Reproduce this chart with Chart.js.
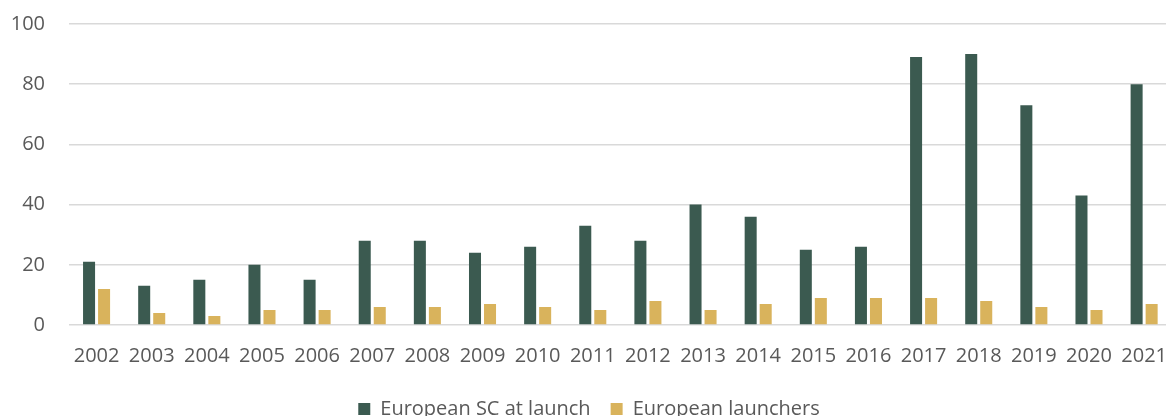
<!DOCTYPE html>
<html>
<head>
<meta charset="utf-8">
<script src="https://cdn.jsdelivr.net/npm/chart.js@4"></script>
<style>
    html, body { margin: 0; padding: 0; background: #fff; overflow: hidden; }
    #wrap { position: relative; width: 1178px; height: 441px; margin-top: -12px; }
</style>
</head>
<body>
<div id="wrap"><canvas id="chart"></canvas></div>
<script>
const years = ['2002', '2003', '2004', '2005', '2006', '2007', '2008', '2009', '2010', '2011',
    '2012', '2013', '2014', '2015', '2016', '2017', '2018', '2019', '2020', '2021'];
const scAtLaunch = [21, 13, 15, 20, 15, 28, 28, 24, 26, 33, 28, 40, 36, 25, 26, 89, 90, 73, 43, 80];
const launchers = [12, 4, 3, 5, 5, 6, 6, 7, 6, 5, 8, 5, 7, 9, 9, 9, 8, 6, 5, 7];
const yTicks = [0, 20, 40, 60, 80, 100];

let myChart = null;

window.onload = function () {
    initChart();
};

function initChart() {
    let ctx = document.getElementById('chart').getContext('2d');
    Chart.defaults.font.family = "'Open Sans', sans-serif";
    Chart.defaults.color = '#595959';
    myChart = new Chart(ctx, {
        type: 'bar',
        data: {
            labels: years,
            datasets: [{
                label: 'European SC at launch',
                data: scAtLaunch,
                backgroundColor: '#3b5a50'
            }, {
                label: 'European launchers',
                data: launchers,
                backgroundColor: '#d9b35c'
            }]
        },
        options: {
            responsive: true,
            maintainAspectRatio: false,
            animation: false,
            categoryPercentage: 0.545,
            barPercentage: 0.8,
            layout: { padding: 0 },
            plugins: {
                tooltip: { enabled: false },
                legend: {
                    position: 'bottom',
                    labels: {
                        boxWidth: 12,
                        boxHeight: 12,
                        padding: 20,
                        font: { size: 20 },
                        color: '#595959'
                    }
                }
            },
            scales: {
                x: {
                    grid: { display: false },
                    border: { display: false },
                    ticks: { font: { size: 20 }, color: '#595959', padding: 11, maxRotation: 0 }
                },
                y: {
                    min: 0,
                    max: 100,
                    afterBuildTicks: function (axis) {
                        axis.ticks = yTicks.map(v => ({ value: v }));
                    },
                    afterFit: function (axis) {
                        axis.width = 69;
                    },
                    grid: { color: '#d9d9d9', lineWidth: 1.5, drawTicks: false },
                    border: { display: false },
                    ticks: { font: { size: 20 }, color: '#595959', padding: 24 }
                }
            }
        }
    });
}
</script>
</body>
</html>
